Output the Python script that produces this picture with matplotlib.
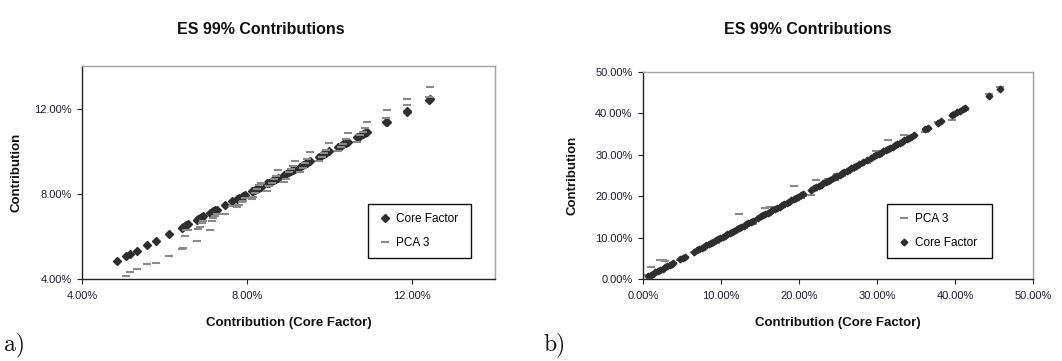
import matplotlib
matplotlib.use("Agg")
import matplotlib.pyplot as plt
from matplotlib.ticker import FormatStrFormatter

plt.rcParams["font.family"] = ["Liberation Sans", "DejaVu Sans"]

CORE_COLOR = "#2e2e2e"
PCA_COLOR = "#8a8a8a"

# panel a) values in percent; core factor is plotted against itself
core_a = [4.84, 5.07, 5.16, 5.32, 5.58, 5.80, 6.11,
          6.41, 6.45, 6.49, 6.53, 6.57,
          6.78, 6.82, 6.86, 6.90, 6.94,
          7.10, 7.14, 7.18, 7.22, 7.26,
          7.46, 7.64, 7.76, 7.81, 7.87, 7.91, 7.95,
          8.11, 8.15, 8.19, 8.23, 8.29, 8.33,
          8.49, 8.53, 8.59, 8.65, 8.70, 8.74,
          8.89, 8.94, 9.00, 9.05, 9.10, 9.15,
          9.28, 9.34, 9.40, 9.46, 9.52,
          9.75, 9.80, 9.86, 9.92, 9.99,
          10.21, 10.26, 10.33, 10.39, 10.45,
          10.67, 10.73, 10.80, 10.85, 10.89,
          11.36, 11.38, 11.86, 11.88, 12.41, 12.43]
pca_a = [3.85, 4.16, 4.31, 4.47, 4.72, 4.75, 5.10,
         5.41, 5.45, 6.04, 6.32, 6.30,
         5.77, 6.35, 6.45, 6.62, 6.70,
         6.29, 6.71, 6.87, 6.95, 7.05,
         7.03, 7.45, 7.39, 7.48, 7.62, 7.65, 7.80,
         7.76, 7.85, 8.05, 8.22, 8.40, 8.50,
         8.12, 8.35, 8.49, 8.70, 8.85, 9.11,
         8.55, 8.70, 9.00, 9.15, 9.30, 9.54,
         9.00, 9.20, 9.45, 9.62, 9.96,
         9.54, 9.75, 9.90, 10.05, 10.40,
         10.00, 10.20, 10.35, 10.55, 10.87,
         10.43, 10.75, 10.92, 11.10, 11.39,
         11.55, 11.92, 12.15, 12.47, 12.55, 13.02]

# panel b)
core_b = [0.7, 1.0, 1.3, 1.6, 1.9, 2.2, 2.5, 2.8, 3.1, 3.4, 3.7, 3.9,
          4.8, 5.1, 5.4,
          6.6, 6.9, 7.2, 7.5, 7.8, 8.1, 8.4, 8.7, 9.0, 9.3, 9.6, 9.9, 10.2,
          10.5, 10.8, 11.1, 11.4, 11.7, 12.0, 12.3, 12.6, 12.9, 13.2, 13.5,
          13.8, 14.1,
          14.8, 15.1, 15.4, 15.7, 16.0, 16.3, 16.6, 16.9, 17.2, 17.5, 17.8,
          18.1, 18.4, 18.7, 19.0, 19.3, 19.6, 19.9, 20.2, 20.5,
          21.6, 21.9, 22.2, 22.5, 22.8, 23.1, 23.4, 23.7, 24.0, 24.3, 24.6,
          24.9, 25.2, 25.5, 25.8, 26.1, 26.4, 26.7, 27.0, 27.3,
          27.7, 28.2, 28.7, 29.2, 29.6,
          29.9, 30.2, 30.5, 30.8, 31.1, 31.4, 31.7, 32.0, 32.3, 32.6, 32.9,
          33.2, 33.5, 33.8, 34.1, 34.4, 34.7,
          36.2, 36.5, 37.8, 38.2, 39.6, 39.9, 40.3, 40.7, 41.0, 41.3, 44.3, 45.8]
pca_b = [0.9, 2.8, 1.1, 1.5, 1.8, 4.5, 4.5, 4.4, 3.0, 3.2, 3.5, 3.8,
         4.7, 5.0, 5.3,
         6.5, 6.8, 7.0, 7.2, 7.4, 7.7, 7.9, 8.1, 8.4, 8.7, 9.1, 9.5, 9.8,
         10.1, 10.4, 10.7, 11.0, 11.2, 11.5, 15.6, 12.2, 12.4, 12.8, 13.1,
         13.3, 13.4,
         14.6, 14.9, 15.1, 17.2, 15.7, 17.3, 16.3, 16.6, 16.9, 17.1, 17.4,
         17.8, 18.0, 18.3, 18.6, 22.4, 19.2, 19.4, 19.6, 20.1,
         20.3, 21.5, 24.0, 22.1, 22.4, 22.6, 23.0, 24.1, 23.6, 23.8, 24.0,
         25.4, 24.7, 25.0, 25.3, 25.7, 26.0, 26.2, 26.6, 26.9,
         27.4, 27.9, 28.0, 28.9, 29.4,
         31.0, 29.9, 30.2, 30.5, 30.9, 33.6, 31.4, 31.7, 32.0, 32.3, 32.6,
         32.9, 34.7, 33.5, 33.8, 34.1, 34.6,
         35.6, 36.3, 38.0, 38.2, 38.3, 39.8, 40.1, 40.4, 40.6, 40.9, 44.6, 46.3]

ticks_a = [4, 8, 12]
ticks_b = [0, 10, 20, 30, 40, 50]


def style_axes(ax, lim, ticks):
    ax.set_xlim(*lim)
    ax.set_ylim(*lim)
    ax.set_xticks(ticks)
    ax.set_yticks(ticks)
    fmt = FormatStrFormatter("%.2f%%")
    ax.xaxis.set_major_formatter(fmt)
    ax.yaxis.set_major_formatter(fmt)
    ax.tick_params(direction="out", length=3.5, width=0.8, labelsize=8,
                   labelcolor="#1e1e2e", color="#222222")
    ax.tick_params(axis="x", pad=5)
    ax.tick_params(axis="y", pad=4)
    for side in ["left", "bottom"]:
        ax.spines[side].set_color("#222222")
        ax.spines[side].set_linewidth(1.0)
    for side in ["top", "right"]:
        ax.spines[side].set_color("#a0a0a0")
        ax.spines[side].set_linewidth(1.0)


fig = plt.figure(figsize=(10.62, 3.61), dpi=100)
W, H = 1062.0, 361.0

# a)
ax1 = fig.add_axes([82 / W, (H - 279) / H, 413 / W, 213 / H])
ax1.plot(core_a, core_a, ls="none", marker="D", ms=3.6, color=CORE_COLOR,
         label="Core Factor", zorder=3)
ax1.plot(core_a, pca_a, ls="none", marker="_", ms=6, mew=1.5,
         color=PCA_COLOR, label="PCA 3", zorder=4)
style_axes(ax1, (4, 14), ticks_a)
leg1 = ax1.legend(loc="upper left", bbox_to_anchor=(0.6925, 0.352, 0.25, 0.0),
                  mode="expand", fontsize=8.5, frameon=True, fancybox=False,
                  edgecolor="#111111", framealpha=1, borderpad=0.75,
                  labelspacing=1.0, handlelength=1.3, handletextpad=0.3,
                  borderaxespad=0)
leg1.get_frame().set_linewidth(1.0)

# b)
ax2 = fig.add_axes([643 / W, (H - 279) / H, 390 / W, 207 / H])
ax2.plot(core_b, pca_b, ls="none", marker="_", ms=5.5, mew=1.5,
         color=PCA_COLOR, label="PCA 3", zorder=3)
ax2.plot(core_b, core_b, ls="none", marker="D", ms=3.4, color=CORE_COLOR,
         label="Core Factor", zorder=4)
style_axes(ax2, (0, 50), ticks_b)
leg2 = ax2.legend(loc="upper left", bbox_to_anchor=(0.626, 0.362, 0.269, 0.0),
                  mode="expand", fontsize=8.5, frameon=True, fancybox=False,
                  edgecolor="#111111", framealpha=1, borderpad=0.75,
                  labelspacing=1.0, handlelength=1.3, handletextpad=0.3,
                  borderaxespad=0)
leg2.get_frame().set_linewidth(1.0)

# titles and labels
title_kw = dict(fontsize=11.5, fontweight="bold", ha="center", va="center",
                color="#111111")
fig.text(261 / W, 1 - 30 / H, "ES 99% Contributions", **title_kw)
fig.text(808 / W, 1 - 30 / H, "ES 99% Contributions", **title_kw)

lab_kw = dict(fontsize=9.5, fontweight="bold", ha="center", va="center",
              color="#111111")
fig.text(289 / W, 1 - 323 / H, "Contribution (Core Factor)", **lab_kw)
fig.text(838 / W, 1 - 323 / H, "Contribution (Core Factor)", **lab_kw)
fig.text(17 / W, 1 - 172 / H, "Contribution", rotation=90, **lab_kw)
fig.text(573 / W, 1 - 175 / H, "Contribution", rotation=90, **lab_kw)

panel_kw = dict(fontsize=17, ha="left", va="baseline", family="cmr10",
                color="#111111")
fig.text(4 / W, 1 - 350 / H, "a)", **panel_kw)
fig.text(543 / W, 1 - 350 / H, "b)", **panel_kw)

fig.savefig("out.png", dpi=100)
